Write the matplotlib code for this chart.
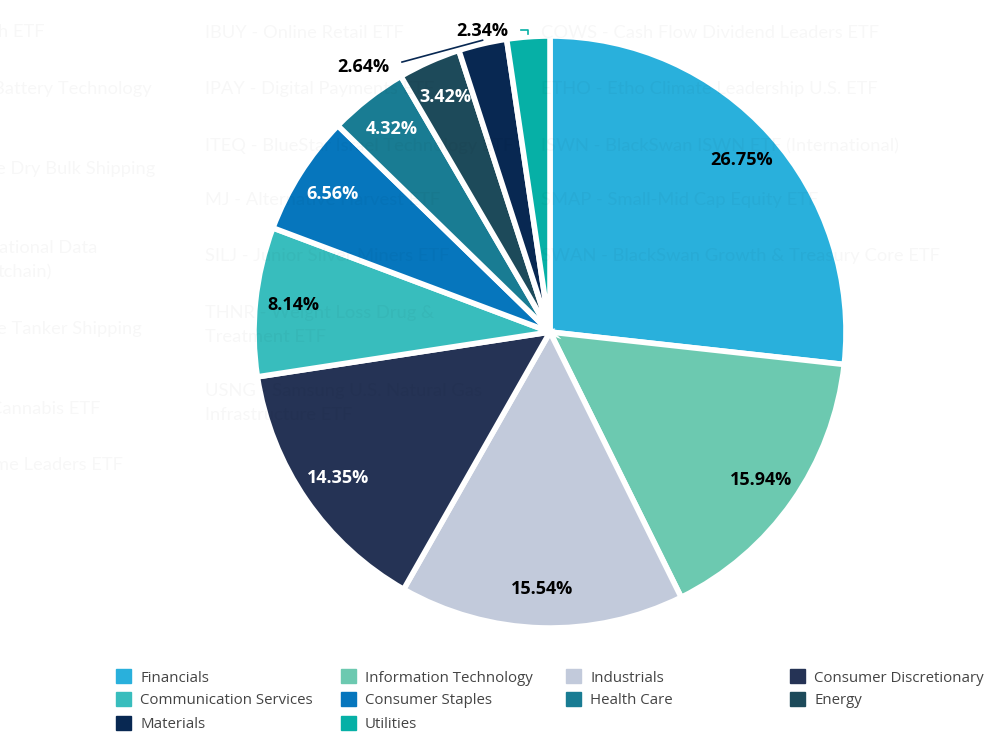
import matplotlib.pyplot as plt
import numpy as np

# sector weights (%)
sectors = ["Financials", "Information Technology", "Industrials", "Consumer Discretionary",
           "Communication Services", "Consumer Staples", "Health Care", "Energy",
           "Materials", "Utilities"]
weights = [26.75, 15.94, 15.54, 14.35, 8.14, 6.56, 4.32, 3.42, 2.64, 2.34]
colors = ["#29b0dc", "#6cc9b0", "#c2cadb", "#253355", "#38bdbd", "#0676bd",
          "#197c93", "#1d4a5a", "#082852", "#06b0a6"]
label_colors = ["black", "black", "black", "white", "black", "white",
                "white", "white", "black", "black"]

# faint page text showing through behind the chart
bg_left = [("h ETF", 32), ("Battery Technology", 89), ("e Dry Bulk Shipping", 169),
           ("ational Data", 248), ("tchain)", 272), ("e Tanker Shipping", 329),
           ("Cannabis ETF", 409), ("me Leaders ETF", 465)]
bg_left_ends = [45, 152, 155, 97, 52, 142, 100, 123]
bg_mid = [("IBUY - Online Retail ETF", 33), ("IPAY - Digital Payments ETF", 89),
          ("ITEQ - BlueStar Israel Technology ETF", 146), ("MJ - Alternative Harvest ETF", 200),
          ("SILJ - Junior Silver Miners ETF", 256), ("THNR - Weight Loss Drug &", 313),
          ("Treatment ETF", 337), ("USNG - Samsung U.S. Natural Gas", 391),
          ("Infrastructure ETF", 415)]
bg_right = [("COWS - Cash Flow Dividend Leaders ETF", 33),
            ("ETHO - Etho Climate Leadership U.S. ETF", 89),
            ("ISWN - BlackSwan ISWN ETF (International)", 146),
            ("SMAP - Small-Mid Cap Equity ETF", 200),
            ("SWAN - BlackSwan Growth & Treasury Core ETF", 256)]

W, H = 1007, 748
fig = plt.figure(figsize=(W / 100, H / 100), dpi=100)

cx, cy, r = 550, 332, 296
ax = fig.add_axes([(cx - r) / W, (H - cy - r) / H, 2 * r / W, 2 * r / H])
wedges, _ = ax.pie(weights, colors=colors, startangle=90, counterclock=False,
                   wedgeprops=dict(edgecolor="white", linewidth=4))
ax.set_xlim(-1, 1)
ax.set_ylim(-1, 1)
ax.set_aspect("equal")
ax.axis("off")

lab_font = dict(family="Open Sans", fontsize=13, fontweight="bold")
for i, w in enumerate(wedges):
    mid = np.deg2rad((w.theta1 + w.theta2) / 2)
    ex, ey = np.cos(mid), np.sin(mid)
    txt = "%.2f%%" % weights[i]
    if weights[i] > 3:
        ax.text(0.87 * ex, 0.87 * ey, txt, ha="center", va="center",
                color=label_colors[i], **lab_font)
    elif sectors[i] == "Materials":
        ax.plot([-0.5, ex], [0.912, ey + 0.012], color=colors[i], lw=1.2, clip_on=False)
        ax.text(-0.63, 0.895, txt, ha="center", va="center", color="black",
                clip_on=False, **lab_font)
    else:
        ax.plot([-0.099, ex, ex], [1.02, 1.02, ey + 0.01], color=colors[i], lw=1.2,
                clip_on=False)
        ax.text(-0.228, 1.017, txt, ha="center", va="center", color="black",
                clip_on=False, **lab_font)

bg_font = dict(family="Lato", fontsize=13.2, color="black", alpha=0.03, va="center", zorder=10)
for (t, y), xe in zip(bg_left, bg_left_ends):
    fig.text(xe / W, 1 - y / H, t, ha="right", **bg_font)
for t, y in bg_mid:
    fig.text(205 / W, 1 - y / H, t, ha="left", **bg_font)
for t, y in bg_right:
    fig.text(541 / W, 1 - y / H, t, ha="left", **bg_font)

# legend, row-major in four columns
col_x = [116, 341, 566, 790]
row_y = [676, 699, 723]
for i, (name, c) in enumerate(zip(sectors, colors)):
    x = col_x[i % 4]
    y = row_y[i // 4]
    fig.patches.append(plt.Rectangle((x / W, (H - y - 7) / H), 15 / W, 14 / H,
                                     transform=fig.transFigure, color=c))
    fig.text((x + 24) / W, 1 - (y + 2) / H, name, ha="left", va="center",
             family="Open Sans", fontsize=10.8, color="#444444")

fig.savefig("out.png", dpi=100)
